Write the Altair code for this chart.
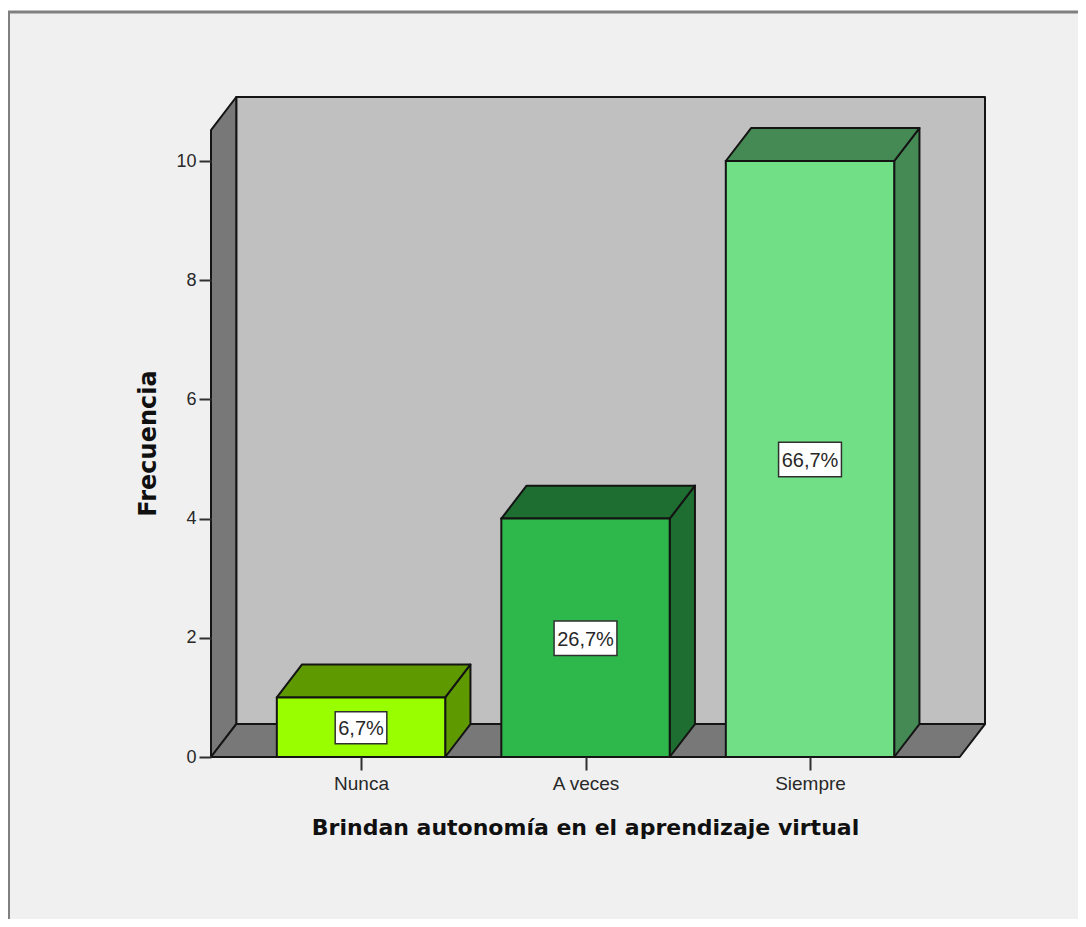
import altair as alt
import pandas as pd

categories = ["Nunca", "A veces", "Siempre"]
positions = [1, 2, 3]
values = [1, 4, 10]
percents = ["6,7%", "26,7%", "66,7%"]
fronts = ["#99FF00", "#2EB84B", "#70DF86"]
shades = ["#5F9900", "#1D6E30", "#458A54"]
box_half_w = [0.115, 0.14, 0.14]
box_half_h = [0.26, 0.28, 0.28]

X0, X1 = 0.3318, 3.7795
Y1 = 11.074
DX = 0.1125      # depth of the fake 3D, x units
DY = 0.553       # depth of the fake 3D, y units
BAR = 0.375      # half bar width
WALL_TOP = 10.52
XF = X1 - DX
LW = 2
INK = "#141414"

xs = alt.Scale(domain=[X0, X1], nice=False, zero=False)
ys = alt.Scale(domain=[0, Y1], nice=False, zero=False)
FONT = "Liberation Sans"
TFONT = "DejaVu Sans"


def X(f="x"):
    return alt.X(f"{f}:Q", scale=xs, axis=None, title=None)


def Y(f="y"):
    return alt.Y(f"{f}:Q", scale=ys, axis=None, title=None)


# page decoration
page = alt.Chart(pd.DataFrame({"a": [0]})).mark_rect(fill="#F0F0F0").encode(
    x=alt.value(-202), x2=alt.value(875), y=alt.value(-85), y2=alt.value(830))
top_line = alt.Chart(pd.DataFrame({"a": [0]})).mark_rule(color="#808080", strokeWidth=3).encode(
    x=alt.value(-203), x2=alt.value(875), y=alt.value(-85))
left_line = alt.Chart(pd.DataFrame({"a": [0]})).mark_rule(color="#808080", strokeWidth=2).encode(
    x=alt.value(-202), y=alt.value(-85), y2=alt.value(830))

# axes
axis_df = pd.DataFrame({"x": [X0, X1], "y": [0, Y1]})
label_expr = "datum.value == 1 ? 'Nunca' : datum.value == 2 ? 'A veces' : 'Siempre'"
axes = alt.Chart(axis_df).mark_point(opacity=0).encode(
    x=alt.X("x:Q", scale=xs, title="Brindan autonomía en el aprendizaje virtual",
            axis=alt.Axis(values=positions, labelExpr=label_expr, grid=False, domain=False, zindex=1,
                          tickSize=13, tickColor="#303030", tickWidth=2, labelFont=FONT, labelFontSize=19,
                          labelColor="#282828", labelPadding=4, labelFlush=False, labelOverlap=False,
                          titleFont=TFONT, titleFontSize=22, titleFontWeight="bold", titleColor="#101010",
                          titleX=374, titleY=70, titleAlign="center", titleBaseline="middle")),
    y=alt.Y("y:Q", scale=ys, title="Frecuencia",
            axis=alt.Axis(values=[0, 2, 4, 6, 8, 10], format="d", grid=False, domain=False, zindex=1,
                          tickSize=12, tickColor="#303030", tickWidth=2, labelFont=FONT, labelFontSize=18,
                          labelColor="#282828", labelPadding=3,
                          titleFont=TFONT, titleFontSize=24, titleFontWeight="bold", titleColor="#101010",
                          titleX=-63, titleY=346, titleAlign="center", titleBaseline="middle")),
)

# walls and floor
wall = alt.Chart(pd.DataFrame({"x": [X0 + DX], "x2": [X1], "y": [DY], "y2": [Y1]})).mark_rect(
    fill="#C0C0C0", stroke=INK, strokeWidth=LW, strokeJoin="round").encode(x=X(), x2="x2:Q", y=Y(), y2="y2:Q")
left_wall = alt.Chart(pd.DataFrame({"x": [X0, X0 + DX], "y": [WALL_TOP, Y1], "y2": [0, DY]})).mark_area(
    fill="#787878", stroke=INK, strokeWidth=LW, strokeJoin="round").encode(x=X(), y=Y(), y2="y2:Q")
floor = alt.Chart(pd.DataFrame({"y": [0, DY], "x": [X0, X0 + DX], "x2": [XF, X1]})).mark_area(
    orient="horizontal", fill="#787878", stroke=INK, strokeWidth=LW, strokeJoin="round").encode(y=Y(), x=X(), x2="x2:Q")

layers = [page, top_line, left_line, axes, wall, left_wall, floor]

# bars
for p, v, front, shade in zip(positions, values, fronts, shades):
    l, r = p - BAR, p + BAR
    side = alt.Chart(pd.DataFrame({"x": [r, r + DX], "y": [v, v + DY], "y2": [0, DY]})).mark_area(
        fill=shade, stroke=INK, strokeWidth=LW, strokeJoin="round").encode(x=X(), y=Y(), y2="y2:Q")
    top = alt.Chart(pd.DataFrame({"y": [v, v + DY], "x": [l, l + DX], "x2": [r, r + DX]})).mark_area(
        orient="horizontal", fill=shade, stroke=INK, strokeWidth=LW, strokeJoin="round").encode(y=Y(), x=X(), x2="x2:Q")
    face = alt.Chart(pd.DataFrame({"x": [l], "x2": [r], "y": [0], "y2": [v]})).mark_rect(
        fill=front, stroke=INK, strokeWidth=LW).encode(x=X(), x2="x2:Q", y=Y(), y2="y2:Q")
    layers += [side, top, face]

# percentage labels
lab = pd.DataFrame({
    "x": positions,
    "y": [v / 2 for v in values],
    "t": percents,
    "x1": [p - w for p, w in zip(positions, box_half_w)],
    "x2": [p + w for p, w in zip(positions, box_half_w)],
    "y1": [v / 2 - h for v, h in zip(values, box_half_h)],
    "y2": [v / 2 + h for v, h in zip(values, box_half_h)],
})
boxes = alt.Chart(lab).mark_rect(fill="white", stroke="#303030", strokeWidth=1.5, yOffset=1).encode(
    x=X("x1"), x2="x2:Q", y=Y("y1"), y2="y2:Q")
texts = alt.Chart(lab).mark_text(font=FONT, fontSize=20, color="#282828", yOffset=2).encode(
    x=X(), y=Y(), text="t:N")
layers += [boxes, texts]

chart = alt.layer(*layers).properties(
    width=774, height=660,
    padding={"left": 203, "top": 89, "right": 93, "bottom": 162},
    autosize=alt.AutoSizeParams(type="none"),
    background="white",
).resolve_axis(x="independent", y="independent").configure_view(stroke=None)

chart.save("out.html", embed_options={"renderer": "svg", "actions": False})
